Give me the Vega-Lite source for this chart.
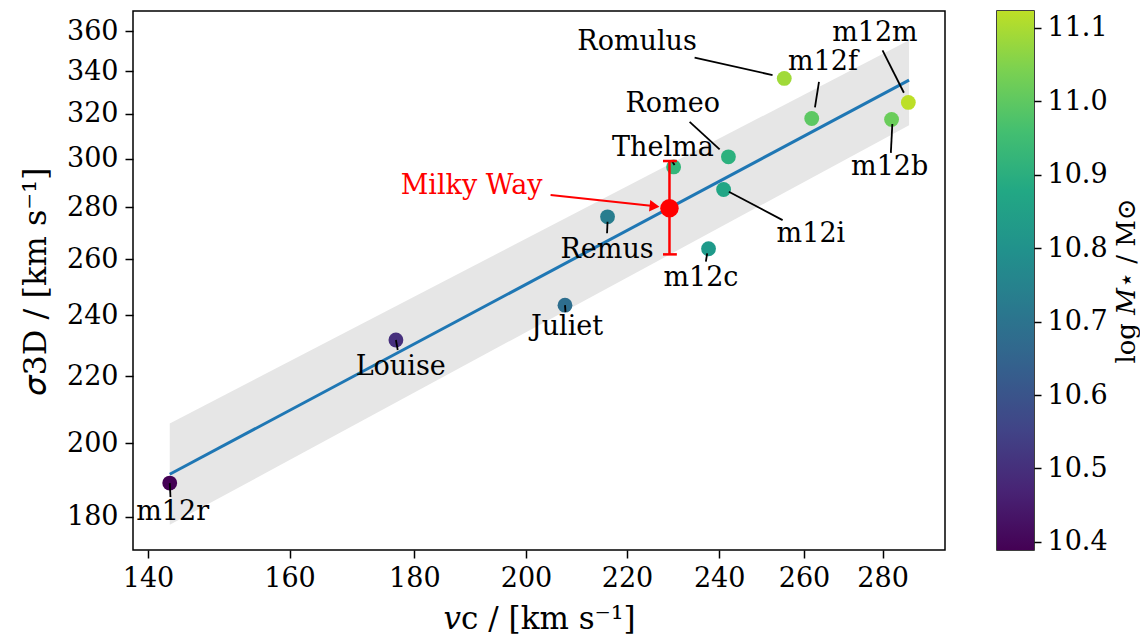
{
  "$schema": "https://vega.github.io/schema/vega-lite/v6.json",
  "autosize": {"type": "pad"},
  "padding": {"left": 18, "top": 10, "right": 0, "bottom": 0},
  "background": "white",
  "config": {
    "font": "DejaVu Serif",
    "view": {"stroke": "black", "strokeWidth": 1.5},
    "axis": {
      "grid": false, "domain": false, "tickColor": "black", "tickWidth": 1.5, "tickSize": 8,
      "labelFont": "DejaVu Serif", "labelFontSize": 27, "labelColor": "black", "labelPadding": 7,
      "titleFont": "DejaVu Serif", "titleFontSize": 31, "titleColor": "black", "titleFontWeight": "normal",
      "labelFlush": false, "labelOverlap": false
    }
  },
  "datasets": {
    "band": [
      {"vc": 142.9, "sig": 178.0, "sig2": 205.7},
      {"vc": 287.1, "sig": 314.8, "sig2": 355.4}
    ],
    "fit": [
      {"vc": 142.9, "sig": 191.3},
      {"vc": 287.1, "sig": 335.7}
    ],
    "sims": [
      {"name": "m12r", "vc": 142.9, "sig": 188.9, "logm": 10.389},
      {"name": "Louise", "vc": 176.9, "sig": 231.7, "logm": 10.50},
      {"name": "Juliet", "vc": 207.5, "sig": 243.5, "logm": 10.68},
      {"name": "Remus", "vc": 216.0, "sig": 276.2, "logm": 10.73},
      {"name": "m12c", "vc": 237.6, "sig": 263.9, "logm": 10.83},
      {"name": "m12i", "vc": 241.0, "sig": 287.2, "logm": 10.87},
      {"name": "Romeo", "vc": 242.1, "sig": 300.9, "logm": 10.91},
      {"name": "Thelma", "vc": 229.9, "sig": 296.6, "logm": 10.93},
      {"name": "m12f", "vc": 261.9, "sig": 317.8, "logm": 11.00},
      {"name": "m12b", "vc": 282.4, "sig": 317.4, "logm": 11.02},
      {"name": "Romulus", "vc": 255.2, "sig": 336.5, "logm": 11.09},
      {"name": "m12m", "vc": 286.9, "sig": 325.2, "logm": 11.123}
    ],
    "leaders": [
      {"name": "Romulus", "vc": 234.5, "sig": 346.7, "vc2": 252.4, "sig2": 338.1},
      {"name": "m12f", "vc": 263.7, "sig": 334.9, "vc2": 262.7, "sig2": 322.9},
      {"name": "m12m", "vc": 280.0, "sig": 350.3, "vc2": 285.7, "sig2": 329.7},
      {"name": "m12b", "vc": 282.6, "sig": 315.3, "vc2": 282.2, "sig2": 302.6},
      {"name": "Romeo", "vc": 233.4, "sig": 316.3, "vc2": 240.1, "sig2": 304.1},
      {"name": "Thelma", "vc": 229.5, "sig": 299.2, "vc2": 230.1, "sig2": 297.4},
      {"name": "m12i", "vc": 242.2, "sig": 286.3, "vc2": 254.8, "sig2": 274.9},
      {"name": "Remus", "vc": 216.0, "sig": 274.3, "vc2": 215.9, "sig2": 269.8},
      {"name": "m12c", "vc": 237.3, "sig": 262.2, "vc2": 237.0, "sig2": 259.1},
      {"name": "Juliet", "vc": 207.5, "sig": 243.5, "vc2": 207.6, "sig2": 241.1},
      {"name": "Louise", "vc": 176.9, "sig": 231.7, "vc2": 177.2, "sig2": 228.4},
      {"name": "m12r", "vc": 142.9, "sig": 188.9, "vc2": 143.0, "sig2": 185.2}
    ],
    "labels": [
      {"label": "Romulus", "vc": 222.1, "sig": 354.4},
      {"label": "m12f", "vc": 264.7, "sig": 344.4},
      {"label": "m12m", "vc": 278.0, "sig": 359.0},
      {"label": "m12b", "vc": 281.9, "sig": 296.5},
      {"label": "Romeo", "vc": 229.7, "sig": 324.4},
      {"label": "Thelma", "vc": 227.6, "sig": 304.7},
      {"label": "m12i", "vc": 261.7, "sig": 269.5},
      {"label": "Remus", "vc": 215.9, "sig": 263.4},
      {"label": "m12c", "vc": 235.9, "sig": 253.1},
      {"label": "Juliet", "vc": 207.9, "sig": 236.0},
      {"label": "Louise", "vc": 177.7, "sig": 222.9},
      {"label": "m12r", "vc": 143.3, "sig": 181.3}
    ],
    "mw": [{"name": "Milky Way", "vc": 229.0, "sig": 279.6}],
    "mw_err": [{"vc": 229.0, "sig": 261.8, "sig2": 299.1}],
    "mw_caps": [
      {"vc": 227.6, "vc2": 230.6, "sig": 299.1},
      {"vc": 227.6, "vc2": 230.6, "sig": 261.8}
    ],
    "mw_arrow": [{"vc": 204.7, "sig": 284.9, "vc2": 226.0, "sig2": 280.4}],
    "mw_head": [{"vc": 225.8, "sig": 280.4}],
    "mw_label": [{"label": "Milky Way", "vc": 190.0, "sig": 288.6}],
    "cbar": [{"lo": 10.389, "hi": 11.123}]
  },
  "hconcat": [
    {
      "width": 812,
      "height": 539,
      "encoding": {
        "x": {
          "field": "vc", "type": "quantitative",
          "scale": {"type": "log", "domain": [138.03, 297.0], "nice": false, "zero": false},
          "axis": {"values": [140, 160, 180, 200, 220, 240, 260, 280], "format": "d", "title": "𝑣c / [km s⁻¹]", "titlePadding": 13}
        },
        "y": {
          "field": "sig", "type": "quantitative",
          "scale": {"type": "log", "domain": [171.7, 370.5], "nice": false, "zero": false},
          "axis": {"values": [180, 200, 220, 240, 260, 280, 300, 320, 340, 360], "format": "d", "title": "𝜎3D / [km s⁻¹]", "titleFontSize": 32, "titlePadding": 14}
        }
      },
      "layer": [
        {
          "data": {"name": "band"},
          "mark": {"type": "area", "color": "#e6e6e6", "opacity": 1},
          "encoding": {"y2": {"field": "sig2"}}
        },
        {
          "data": {"name": "fit"},
          "mark": {"type": "line", "color": "#1f77b4", "strokeWidth": 3},
          "encoding": {}
        },
        {
          "data": {"name": "sims"},
          "mark": {"type": "circle", "size": 220, "opacity": 1},
          "encoding": {
            "color": {
              "field": "logm", "type": "quantitative",
              "scale": {"scheme": {"name": "viridis", "extent": [0, 0.9]}, "domain": [10.389, 11.123]},
              "legend": null
            }
          }
        },
        {
          "data": {"name": "leaders"},
          "mark": {"type": "rule", "color": "black", "strokeWidth": 1.8},
          "encoding": {"x2": {"field": "vc2"}, "y2": {"field": "sig2"}}
        },
        {
          "data": {"name": "labels"},
          "mark": {"type": "text", "fontSize": 27, "font": "DejaVu Serif", "align": "center", "baseline": "middle", "color": "black"},
          "encoding": {"text": {"field": "label"}}
        },
        {
          "data": {"name": "mw_err"},
          "mark": {"type": "rule", "color": "#ff0000", "strokeWidth": 2.5},
          "encoding": {"y2": {"field": "sig2"}}
        },
        {
          "data": {"name": "mw_caps"},
          "mark": {"type": "rule", "color": "#ff0000", "strokeWidth": 2.5},
          "encoding": {"x2": {"field": "vc2"}}
        },
        {
          "data": {"name": "mw_arrow"},
          "mark": {"type": "rule", "color": "#ff0000", "strokeWidth": 2},
          "encoding": {"x2": {"field": "vc2"}, "y2": {"field": "sig2"}}
        },
        {
          "data": {"name": "mw_head"},
          "mark": {"type": "point", "shape": "triangle-right", "filled": true, "color": "#ff0000", "size": 130, "angle": 6, "opacity": 1},
          "encoding": {}
        },
        {
          "data": {"name": "mw"},
          "mark": {"type": "circle", "color": "#ff0000", "size": 340, "opacity": 1},
          "encoding": {}
        },
        {
          "data": {"name": "mw_label"},
          "mark": {"type": "text", "fontSize": 27, "font": "DejaVu Serif", "align": "center", "baseline": "middle", "color": "#ff0000"},
          "encoding": {"text": {"field": "label"}}
        }
      ]
    },
    {
      "width": 37,
      "height": 539,
      "data": {"name": "cbar"},
      "mark": {
        "type": "rect",
        "fill": {
          "gradient": "linear", "x1": 0, "y1": 1, "x2": 0, "y2": 0,
          "stops": [
            {"offset": 0, "color": "#440154"},
            {"offset": 0.1111, "color": "#482475"},
            {"offset": 0.2222, "color": "#414487"},
            {"offset": 0.3333, "color": "#355f8d"},
            {"offset": 0.4444, "color": "#2a788e"},
            {"offset": 0.5556, "color": "#21918c"},
            {"offset": 0.6667, "color": "#22a884"},
            {"offset": 0.7778, "color": "#44bf70"},
            {"offset": 0.8889, "color": "#7ad151"},
            {"offset": 1, "color": "#bddf26"}
          ]
        }
      },
      "encoding": {
        "x": {"value": 0},
        "x2": {"value": "width"},
        "y": {
          "field": "lo", "type": "quantitative",
          "scale": {"domain": [10.389, 11.123], "nice": false, "zero": false},
          "axis": {
            "orient": "right", "values": [10.4, 10.5, 10.6, 10.7, 10.8, 10.9, 11.0, 11.1], "format": ".1f",
            "title": "log 𝑀⋆ / M⊙", "titleFontSize": 26, "titleAngle": -90, "titleBaseline": "top", "titlePadding": 6,
            "tickSize": 7, "labelPadding": 6
          }
        },
        "y2": {"field": "hi"}
      }
    }
  ],
  "spacing": 50
}
